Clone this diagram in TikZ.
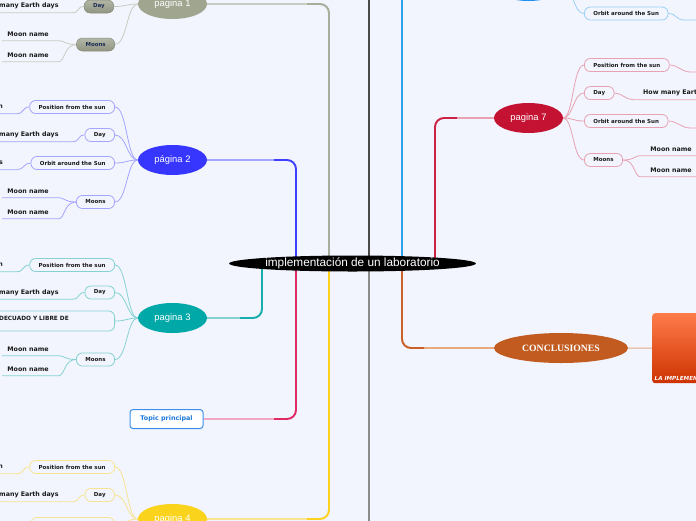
\documentclass[tikz,border=0pt]{standalone}
\usepackage{fontspec}
\setmainfont{Liberation Sans}
\newfontfamily\djv{DejaVu Sans}
\newfontfamily\lserif{Liberation Serif}
\usetikzlibrary{shapes.geometric,calc}
\pgfdeclarelayer{back}
\pgfsetlayers{back,main}
\definecolor{bgc}{HTML}{F2F5FE}
\definecolor{grayS}{HTML}{A9AE9C}
\definecolor{grayE}{HTML}{A0A590}
\definecolor{grayL}{HTML}{C9CCC0}
\definecolor{blueS}{HTML}{4040FF}
\definecolor{blueE}{HTML}{3636FF}
\definecolor{blueL}{HTML}{A5A5FF}
\definecolor{tealS}{HTML}{18ADAD}
\definecolor{tealE}{HTML}{00A8A8}
\definecolor{tealL}{HTML}{86D2D2}
\definecolor{pinkS}{HTML}{E02A64}
\definecolor{pinkL}{HTML}{F0A8C4}
\definecolor{yelS}{HTML}{FDD21E}
\definecolor{yelE}{HTML}{F9D31C}
\definecolor{yelL}{HTML}{F8E391}
\definecolor{redS}{HTML}{CC2244}
\definecolor{redE}{HTML}{C41232}
\definecolor{redL}{HTML}{E8A2B2}
\definecolor{oraS}{HTML}{C9622A}
\definecolor{oraE}{HTML}{C25B20}
\definecolor{oraL}{HTML}{E8A880}
\definecolor{skyS}{HTML}{2EA0F5}
\definecolor{skyE}{HTML}{1E90F0}
\definecolor{skyL}{HTML}{9ACFF5}
\definecolor{darkS}{HTML}{4A4A4A}
\definecolor{midS}{HTML}{8C8C8C}
\definecolor{navy}{HTML}{1D2D55}
\definecolor{tpblue}{HTML}{1E78DC}
\definecolor{tpedge}{HTML}{3D8FEA}
\definecolor{imgtop}{HTML}{FF7B4A}
\definecolor{imgbot}{HTML}{CC3300}
\definecolor{ink}{HTML}{1A1A1A}
\tikzset{
  x=1pt, y=-1pt,
  topic/.style={ellipse, inner sep=0, minimum width=69, minimum height=30, text=white, font=\fontsize{9.4}{11}\selectfont},
  pill/.style={draw, rounded corners=6, minimum height=13, inner xsep=9, inner ysep=0, line width=0.8, font=\djv\bfseries\fontsize{5.5}{6}\selectfont, text=ink},
  pillg/.style={pill, draw=grayE!85!black, line width=0.5, top color=grayE!80!white, bottom color=grayE!90!black, text=navy},
  leaf/.style={inner xsep=0, inner ysep=0, minimum height=13, font=\djv\bfseries\fontsize{6.3}{7}\selectfont, text=ink},
  sub/.style={line width=0.8},
  mainl/.style={line width=1.8, rounded corners=9},
}
\newcommand\lconn[3]{\draw[sub,#3] (#1.west) .. controls +(-7,0) and +(7,0) .. ($(#2.south east)+(14,0)$) -- ($(#2.south west)+(-6,0)$);}
\newcommand\mconn[3]{\draw[sub,#3] (#1.west) .. controls +(-12,0) and +(6,0) .. ($(#2.south east)+(10,0)$) -- ($(#2.south west)+(-5,0)$);}
\newcommand\spineL[3]{\draw[sub,#3] (#1.west) .. controls +(-11,0) and +(12,0) .. (#2.east);}
\newcommand\spineR[3]{\draw[sub,#3] (#1.east) .. controls +(10,0) and +(-11,0) .. (#2.west);}
\newcommand\rconn[3]{\draw[sub,#3] (#1.east) .. controls +(7,0) and +(-7,0) .. ($(#2.south west)+(-10,0)$) -- ($(#2.south east)+(6,0)$);}
\newcommand\rmconn[3]{\draw[sub,#3] (#1.east) .. controls +(12,0) and +(-6,0) .. ($(#2.south west)+(-10,0)$) -- ($(#2.south east)+(8,0)$);}
\begin{document}
\begin{tikzpicture}
\useasboundingbox (0,0) rectangle (696,520);

% ---------- nodes ----------
\node[fill=black, ellipse, inner sep=0, minimum width=243, minimum height=16, text=white, font=\fontsize{11.8}{12}\selectfont] (root) at (352.5,263.5) {implementación de un laboratorio};

% pagina 1
\node[topic, fill=grayE] (p1) at (172.5,4) {pagina 1};
\node[pillg, anchor=east] (p1a) at (114,6.5) {Day};
\node[pillg, anchor=east] (p1b) at (115,44.5) {Moons};
\node[leaf, anchor=west] (l1a) at (-1,6) {many Earth days};
\node[leaf] (l1b) at (28,34) {Moon name};
\node[leaf] (l1c) at (28,55) {Moon name};

% pagina 2
\node[topic, fill=blueE] (p2) at (172.5,160) {página 2};
\node[pill, draw=blueL, anchor=east] (p2a) at (115,107) {Position from the sun};
\node[pill, draw=blueL, anchor=east] (p2b) at (115,135) {Day};
\node[pill, draw=blueL, anchor=east] (p2c) at (115,163) {Orbit around the Sun};
\node[pill, draw=blueL, anchor=east] (p2d) at (115,202) {Moons};
\node[leaf, anchor=east] (l2a) at (3,107) {n};
\node[leaf, anchor=west] (l2b) at (-1,135) {many Earth days};
\node[leaf, anchor=east] (l2c) at (3,163) {s};
\node[leaf] (l2d) at (28,191) {Moon name};
\node[leaf] (l2e) at (28,212) {Moon name};

% pagina 3
\node[topic, fill=tealE] (p3) at (172.5,318) {pagina 3};
\node[pill, draw=tealL, anchor=east] (p3a) at (115,265) {Position from the sun};
\node[pill, draw=tealL, anchor=east] (p3b) at (115,292.5) {Day};
\node[pill, draw=tealL, anchor=east, minimum width=140, minimum height=20] (p3c) at (115,321) {};
\node[inner sep=0, anchor=west, font=\djv\bfseries\fontsize{5.8}{6}\selectfont, text=ink] (p3ct) at (-1,318) {DECUADO Y LIBRE DE};
\node[pill, draw=tealL, anchor=east] (p3d) at (115,359.5) {Moons};
\node[leaf, anchor=east] (l3a) at (3,265) {n};
\node[leaf, anchor=west] (l3b) at (-1,292.5) {many Earth days};
\node[leaf] (l3d) at (28,349) {Moon name};
\node[leaf] (l3e) at (28,369) {Moon name};

% topic principal
\node[draw=tpedge, line width=1, fill=white, rounded corners=3, minimum width=73, minimum height=19, inner sep=0, font=\djv\bfseries\fontsize{6.4}{7}\selectfont, text=tpblue] (tp) at (166.5,419) {Topic principal};

% pagina 4
\node[topic, fill=yelE] (p4) at (172.5,519) {pagina 4};
\node[pill, draw=yelL, anchor=east] (p4a) at (115,467) {Position from the sun};
\node[pill, draw=yelL, anchor=east] (p4b) at (115,495) {Day};
\node[pill, draw=yelL, anchor=east] (p4c) at (115,524) {Orbit around the Sun};
\node[leaf, anchor=east] (l4a) at (3,467) {n};
\node[leaf, anchor=west] (l4b) at (-1,495) {many Earth days};

% right top (sky)
\node[topic, fill=skyE] (sky) at (528.5,-14) {};
\node[pill, draw=skyL, anchor=west] (s1a) at (584,13.5) {Orbit around the Sun};
\coordinate (es1) at (684,20);
\coordinate (fs1) at (700,20);

% pagina 7
\node[topic, fill=redE] (p7) at (528.5,118) {pagina 7};
\node[pill, draw=redL, anchor=west] (p7a) at (584,65) {Position from the sun};
\node[pill, draw=redL, anchor=west] (p7b) at (584,93) {Day};
\node[pill, draw=redL, anchor=west] (p7c) at (584,121) {Orbit around the Sun};
\node[pill, draw=redL, anchor=west] (p7d) at (584,160) {Moons};
\node[leaf, anchor=west] (l7b) at (643,93) {How many Earth days};
\node[leaf] (l7d) at (671,149) {Moon name};
\node[leaf] (l7e) at (671,170) {Moon name};
\coordinate (e7a) at (690,72);
\coordinate (f7a) at (700,72);
\coordinate (e7c) at (690,128);
\coordinate (f7c) at (700,128);

% conclusiones
\node[ellipse, fill=oraE, inner sep=0, minimum width=134, minimum height=30, text=white, font=\lserif\bfseries\fontsize{9.7}{10}\selectfont] (con) at (561,348) {CONCLUSIONES};
\node[anchor=north west, rounded corners=3, top color=imgtop, bottom color=imgbot, middle color=imgtop!50!imgbot, minimum width=90, minimum height=70, inner sep=0] (img) at (652,313) {};
\node[anchor=west, inner sep=0, text=white, font=\djv\bfseries\itshape\fontsize{5.6}{6}\selectfont] (imgt) at (654.5,377.5) {LA IMPLEMENTACIÓN};

% anchor coordinates on the root
\coordinate (rT1) at (329,263);
\coordinate (rB1) at (296,263);
\coordinate (rD) at (369,263);
\coordinate (rS) at (402,263);
\coordinate (rR) at (435,263);
\coordinate (rTe) at (262,263);
\coordinate (topd) at (369,-30);
\coordinate (botd) at (369,550);

% ---------- connectors ----------
\begin{pgfonlayer}{back}
\fill[bgc] (-5,-5) rectangle (701,525);
% main branches
\draw[mainl,grayL] (rT1) |- (p1.east);
\draw[mainl,grayS] (rT1) |- ($(rT1 |- p1.east)+(-22,0)$);
\draw[mainl,blueL] (rB1) |- (p2.east);
\draw[mainl,blueS] (rB1) |- ($(rB1 |- p2.east)+(-22,0)$);
\draw[mainl,tealL] (rTe) |- (p3.east);
\draw[mainl,tealS] (rTe) |- ($(rTe |- p3.east)+(-22,0)$);
\draw[mainl,pinkL] (rB1) |- (tp.east);
\draw[mainl,pinkS] (rB1) |- ($(rB1 |- tp.east)+(-22,0)$);
\draw[mainl,yelL] (rT1) |- (p4.east);
\draw[mainl,yelS] (rT1) |- ($(rT1 |- p4.east)+(-22,0)$);
\draw[line width=1.8,darkS] (rD) -- (topd);
\draw[line width=1.8,midS] (rD) -- (botd);
\draw[mainl,skyS] (rS) |- (sky.west);
\draw[mainl,redL] (rR) |- (p7.west);
\draw[mainl,redS] (rR) |- ($(rR |- p7.west)+(22,0)$);
\draw[mainl,oraL] (rS) |- (con.west);
\draw[mainl,oraS] (rS) |- ($(rS |- con.west)+(22,0)$);
\draw[line width=1,oraL] (con.east) -- (img.west);
% pagina 1
\spineL{p1}{p1a}{grayL}
\spineL{p1}{p1b}{grayL}
\lconn{p1a}{l1a}{grayL}
\mconn{p1b}{l1b}{grayL}
\mconn{p1b}{l1c}{grayL}
% pagina 2
\spineL{p2}{p2a}{blueL}
\spineL{p2}{p2b}{blueL}
\spineL{p2}{p2c}{blueL}
\spineL{p2}{p2d}{blueL}
\lconn{p2a}{l2a}{blueL}
\lconn{p2b}{l2b}{blueL}
\lconn{p2c}{l2c}{blueL}
\mconn{p2d}{l2d}{blueL}
\mconn{p2d}{l2e}{blueL}
% pagina 3
\spineL{p3}{p3a}{tealL}
\spineL{p3}{p3b}{tealL}
\spineL{p3}{p3c}{tealL}
\spineL{p3}{p3d}{tealL}
\lconn{p3a}{l3a}{tealL}
\lconn{p3b}{l3b}{tealL}
\mconn{p3d}{l3d}{tealL}
\mconn{p3d}{l3e}{tealL}
% pagina 4
\spineL{p4}{p4a}{yelL}
\spineL{p4}{p4b}{yelL}
\spineL{p4}{p4c}{yelL}
\lconn{p4a}{l4a}{yelL}
\lconn{p4b}{l4b}{yelL}
% sky
\spineR{sky}{s1a}{skyL}
\draw[sub,skyL] (s1a.east) .. controls +(8,0) and +(-8,0) .. (es1) -- (fs1);
% pagina 7
\spineR{p7}{p7a}{redL}
\spineR{p7}{p7b}{redL}
\spineR{p7}{p7c}{redL}
\spineR{p7}{p7d}{redL}
\draw[sub,redL] (p7a.east) .. controls +(8,0) and +(-8,0) .. (e7a) -- (f7a);
\draw[sub,redL] (p7c.east) .. controls +(8,0) and +(-8,0) .. (e7c) -- (f7c);
\rconn{p7b}{l7b}{redL}
\rmconn{p7d}{l7d}{redL}
\rmconn{p7d}{l7e}{redL}
\end{pgfonlayer}
\end{tikzpicture}
\end{document}
